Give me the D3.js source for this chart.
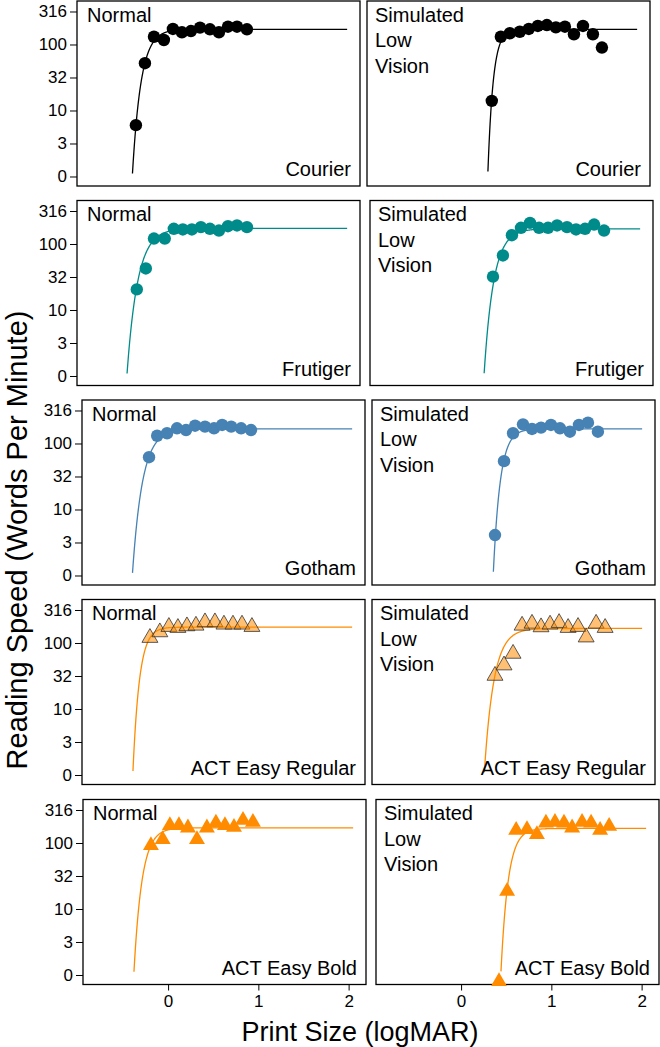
<!DOCTYPE html>
<meta charset="utf-8">
<style>
    body { margin: 0; background: #fff; }
    svg { font-family: "Liberation Sans", Arial, sans-serif; }
</style>
<body>
<script src="https://d3js.org/d3.v7.min.js"></script>
<script>
    // fonts (rows) and viewing conditions (columns)
    const fonts = ["Courier", "Frutiger", "Gotham", "ACT Easy Regular", "ACT Easy Bold"];
    const conditions = [["Normal"], ["Simulated", "Low", "Vision"]];

    // print size (logMAR) and reading speed (wpm)
    const courierNormalSize = [-0.29, -0.19, -0.09, 0.02, 0.12, 0.22, 0.32, 0.42, 0.53, 0.63, 0.73, 0.83, 0.94];
    const courierNormalWpm  = [6, 52, 131, 117, 172, 153, 160, 180, 170, 153, 186, 186, 170];
    const courierLowSize    = [0.44, 0.54, 0.64, 0.75, 0.85, 0.95, 1.05, 1.15, 1.25, 1.35, 1.45, 1.56, 1.66];
    const courierLowWpm     = [14, 131, 148, 156, 172, 191, 197, 182, 186, 143, 191, 143, 90];

    const frutigerNormalSize = [-0.28, -0.18, -0.09, 0.03, 0.13, 0.23, 0.33, 0.43, 0.53, 0.63, 0.73, 0.83, 0.94];
    const frutigerNormalWpm  = [20.5, 42.6, 121, 121, 170, 166, 166, 180, 170, 160, 186, 191, 180];
    const frutigerLowSize    = [0.42, 0.53, 0.63, 0.73, 0.83, 0.93, 1.03, 1.13, 1.24, 1.34, 1.44, 1.54, 1.65];
    const frutigerLowWpm     = [32, 67, 136, 176, 209, 176, 176, 191, 180, 166, 170, 197, 160];

    const gothamNormalSize = [-0.2, -0.11, 0.0, 0.11, 0.21, 0.31, 0.42, 0.52, 0.61, 0.71, 0.82, 0.93];
    const gothamNormalWpm  = [62, 131, 143, 170, 160, 186, 180, 170, 191, 180, 170, 160];
    const gothamLowSize    = [0.42, 0.52, 0.62, 0.73, 0.83, 0.93, 1.04, 1.14, 1.25, 1.35, 1.45, 1.56];
    const gothamLowWpm     = [4.1, 54, 143, 195, 166, 174, 191, 170, 151, 191, 207, 151];

    const actRegNormalSize = [-0.19, -0.08, 0.02, 0.12, 0.22, 0.32, 0.42, 0.53, 0.63, 0.73, 0.83, 0.94];
    const actRegNormalWpm  = [120, 146, 176, 170, 180, 184, 207, 207, 191, 191, 191, 176];
    const actRegLowSize    = [0.42, 0.52, 0.62, 0.72, 0.83, 0.93, 1.03, 1.13, 1.23, 1.34, 1.43, 1.54, 1.64];
    const actRegLowWpm     = [32, 46, 69, 184, 197, 174, 191, 202, 170, 176, 122, 197, 170];

    const actBoldNormalSize = [-0.19, -0.06, 0.02, 0.12, 0.22, 0.32, 0.43, 0.53, 0.63, 0.73, 0.83, 0.94];
    const actBoldNormalWpm  = [92, 113, 184, 184, 170, 113, 170, 202, 184, 174, 221, 207];
    const actBoldLowSize    = [0.42, 0.51, 0.61, 0.73, 0.84, 0.94, 1.04, 1.14, 1.23, 1.34, 1.44, 1.54, 1.64];
    const actBoldLowWpm     = [0.8, 18.6, 156, 160, 135, 202, 207, 202, 170, 207, 202, 156, 180];

    // fitted curve: plateau speed, x-intercept (logMAR), rate
    const curvePlateau = [[170, 170], [172, 170], [166, 166], [174, 166], [170, 166]];
    const curveXint    = [[-0.33, 0.395], [-0.39, 0.32], [-0.385, 0.40], [-0.38, 0.30], [-0.38, 0.44]];
    const curveRate    = [[10.5, 17], [8.5, 9.5], [9, 13], [13.8, 9.5], [11.2, 12.5]];
    const curveEnd = 2.05;

    const yTickValues = [1, Math.sqrt(10), 10, Math.sqrt(1000), 100, Math.sqrt(100000)];
    const yTickLabels = ["0", "3", "10", "32", "100", "316"];
    const xTickValues = [0, 1, 2];

    const panelData = [
        [[courierNormalSize, courierNormalWpm], [courierLowSize, courierLowWpm]],
        [[frutigerNormalSize, frutigerNormalWpm], [frutigerLowSize, frutigerLowWpm]],
        [[gothamNormalSize, gothamNormalWpm], [gothamLowSize, gothamLowWpm]],
        [[actRegNormalSize, actRegNormalWpm], [actRegLowSize, actRegLowWpm]],
        [[actBoldNormalSize, actBoldNormalWpm], [actBoldLowSize, actBoldLowWpm]]
    ];

    // styling
    const colors = ["#000000", "#008b8b", "#4682b4", "#ff8c00", "#ff8c00"];
    const rowTop = [1, 200.5, 400, 599.5, 799.5];
    const colLeft = [[77, 367], [77, 370], [82, 372], [82, 372], [83, 376]];
    const panelW = 283, panelH = 185;

    const svg = d3.select("body").append("svg")
        .attr("width", 660)
        .attr("height", 1047);

    svg.append("rect").attr("width", 660).attr("height", 1047).attr("fill", "#fff");

    fonts.forEach((font, r) => {
        [0, 1].forEach(c => {
            const left = colLeft[r][c], top = rowTop[r];
            const g = svg.append("g").attr("transform", "translate(" + left + "," + top + ")");

            const x = d3.scaleLinear().domain([-0.9425, 2.1925]).range([0, panelW]);
            const y = d3.scaleLog().domain([Math.pow(10, -0.144), Math.pow(10, 2.659)]).range([panelH, 0]);

            g.append("rect")
                .attr("width", panelW).attr("height", panelH)
                .attr("fill", "none").attr("stroke", "#000").attr("stroke-width", 1.3);

            if (c === 0) {
                const ya = g.append("g")
                    .call(d3.axisLeft(y).tickValues(yTickValues)
                        .tickFormat((d, i) => yTickLabels[i]).tickSize(7).tickPadding(3));
                ya.select(".domain").remove();
                ya.selectAll("line").attr("stroke", "#000").attr("stroke-width", 1);
                ya.selectAll("text").attr("font-size", 17).attr("fill", "#000")
                    .attr("font-family", "Liberation Sans, Arial, sans-serif");
            }
            if (r === fonts.length - 1) {
                const xa = g.append("g").attr("transform", "translate(0," + panelH + ")")
                    .call(d3.axisBottom(x).tickValues(xTickValues).tickFormat(d3.format("d"))
                        .tickSize(6).tickPadding(4));
                xa.select(".domain").remove();
                xa.selectAll("line").attr("stroke", "#000");
                xa.selectAll("text").attr("font-size", 17).attr("fill", "#000")
                    .attr("font-family", "Liberation Sans, Arial, sans-serif");
            }

            // fitted curve
            const maxLog = Math.log10(curvePlateau[r][c]);
            const x0 = curveXint[r][c], k = curveRate[r][c];
            const xs = d3.range(x0 + 0.002, curveEnd, 0.004).concat([curveEnd]);
            const line = d3.line()
                .x(d => x(d))
                .y(d => y(Math.pow(10, maxLog * (1 - Math.exp(-k * (d - x0))))));
            g.append("path")
                .datum(xs)
                .attr("d", line)
                .attr("fill", "none")
                .attr("stroke", colors[r])
                .attr("stroke-width", 1.3);

            // points
            const [sizes, wpm] = panelData[r][c];
            const pts = sizes.map((s, i) => ({s: s, w: wpm[i]}));
            if (r < 3) {
                g.selectAll(".dot").data(pts).enter().append("circle")
                    .attr("cx", d => x(d.s))
                    .attr("cy", d => y(d.w))
                    .attr("r", 6.2)
                    .attr("fill", colors[r]);
            } else {
                const tri = d3.symbol().type(d3.symbolTriangle).size(110);
                g.selectAll(".tri").data(pts).enter().append("path")
                    .attr("d", tri)
                    .attr("transform", d => "translate(" + x(d.s) + "," + y(d.w) + ")")
                    .attr("fill", r === 3 ? "rgba(255,140,0,0.55)" : colors[r])
                    .attr("stroke", r === 3 ? "#333" : "none")
                    .attr("stroke-width", 0.8);
            }

            // labels
            const lbl = g.append("text").attr("font-size", 20).attr("fill", "#000");
            conditions[c].forEach((t, i) => {
                lbl.append("tspan").attr("x", c === 0 ? 10 : 8).attr("y", 20.5 + i * 25.5).text(t);
            });
            g.append("text")
                .attr("x", panelW - 9).attr("y", panelH - 10)
                .attr("text-anchor", "end").attr("font-size", 20).attr("fill", "#000")
                .text(font);
        });
    });

    svg.append("text")
        .attr("transform", "translate(27,540) rotate(-90)")
        .attr("text-anchor", "middle").attr("font-size", 29)
        .text("Reading Speed (Words Per Minute)");

    svg.append("text")
        .attr("x", 360).attr("y", 1041)
        .attr("text-anchor", "middle").attr("font-size", 27)
        .text("Print Size (logMAR)");
</script>
</body>
